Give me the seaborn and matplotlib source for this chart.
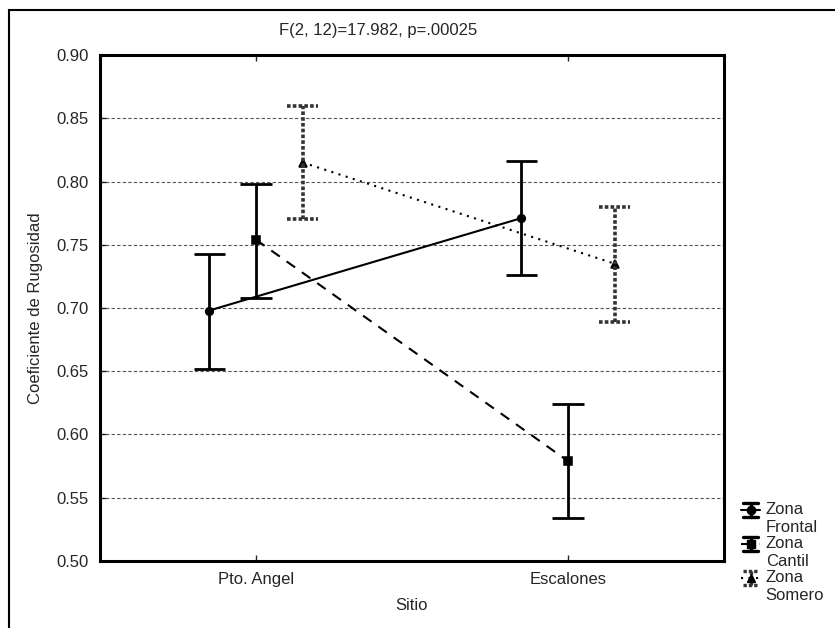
import matplotlib

matplotlib.use("Agg")
import matplotlib.pyplot as plt
import numpy as np
import pandas as pd
import seaborn as sns
from matplotlib.legend_handler import HandlerBase
from matplotlib.lines import Line2D
from matplotlib.patches import Rectangle

sitios = ["Pto. Angel", "Escalones"]
zonas = ["Zona Frontal", "Zona Cantil", "Zona Somero"]
legend_labels = ["Zona\nFrontal", "Zona\nCantil", "Zona\nSomero"]

media_frontal = [0.698, 0.771]
media_cantil = [0.754, 0.579]
media_somero = [0.815, 0.735]

inf_frontal = [0.652, 0.726]
sup_frontal = [0.743, 0.816]
inf_cantil = [0.708, 0.534]
sup_cantil = [0.798, 0.624]
inf_somero = [0.770, 0.689]
sup_somero = [0.860, 0.780]

medias = [media_frontal, media_cantil, media_somero]
inferiores = [inf_frontal, inf_cantil, inf_somero]
superiores = [sup_frontal, sup_cantil, sup_somero]

df = pd.DataFrame({
    "Sitio": sitios * 3,
    "Zona": [z for z in zonas for _ in sitios],
    "Coef": media_frontal + media_cantil + media_somero,
})

line_styles = ["-", (0, (5, 4)), (0, (1, 2.6))]
bar_styles = ["-", "-", (0, (1, 0.6))]
bar_colors = ["black", "black", "#333333"]
markers = ["o", "s", "^"]


class ErrorbarIcon(HandlerBase):
    """Statistica-like legend key: a capped error bar with the mean marker."""

    def create_artists(self, legend, orig_handle, xdescent, ydescent, width, height, fontsize, trans):
        k = orig_handle
        cx = width / 2 - xdescent
        cy = height / 2 - ydescent + fontsize * 0.55  # line up with the first text line
        h = fontsize * 0.42
        w = width * 0.4
        arts = [
            Line2D([cx, cx], [cy - h, cy + h], color=bar_colors[k], linestyle=bar_styles[k], linewidth=2.4),
            Line2D([cx - w, cx + w], [cy + h, cy + h], color=bar_colors[k], linestyle=bar_styles[k], linewidth=2.4),
            Line2D([cx - w, cx + w], [cy - h, cy - h], color=bar_colors[k], linestyle=bar_styles[k], linewidth=2.4),
            Line2D([cx - width / 2, cx + width / 2], [cy, cy], color="black", linestyle=line_styles[k], linewidth=1.5),
            Line2D([cx], [cy], color="black", marker=markers[k], markersize=6, linestyle="none"),
        ]
        for a in arts:
            a.set_transform(trans)
        return arts


sns.set_style("white")
plt.rcParams["font.family"] = ["Liberation Sans", "DejaVu Sans"]
plt.rcParams["font.size"] = 12

fig = plt.figure(figsize=(8.35, 6.28), dpi=100)
ax = fig.add_axes([0.1198, 0.1067, 0.7472, 0.8057])

sns.pointplot(
    data=df, x="Sitio", y="Coef", hue="Zona", order=sitios, hue_order=zonas,
    dodge=0.3, errorbar=None, palette=["black"] * 3,
    linestyles=line_styles, markers=markers, markersize=5.5, linewidth=1.5,
    legend=False, ax=ax,
)

# error bars drawn by hand so the Somero ones can be dotted
offsets = [-0.15, 0.0, 0.15]
cap = 0.05
for k in range(3):
    xs = np.arange(len(sitios)) + offsets[k]
    lw = 2.6 if k == 2 else 2.0
    kw = dict(colors=bar_colors[k], linestyles=bar_styles[k], linewidth=lw, zorder=3)
    ax.vlines(xs, inferiores[k], superiores[k], **kw)
    ax.hlines(inferiores[k], xs - cap, xs + cap, **kw)
    ax.hlines(superiores[k], xs - cap, xs + cap, **kw)

yt = np.arange(0.50, 0.901, 0.05)
ax.set_ylim(0.50, 0.90)
ax.set_xlim(-0.5, 1.5)
ax.set_yticks(yt)
ax.set_yticklabels([f"{v:.2f}" for v in yt])
ax.yaxis.grid(True, linestyle=(0, (3, 2)), color="#555555", linewidth=0.8)
ax.xaxis.grid(False)
ax.tick_params(axis="both", direction="in", length=4, width=1, labelsize=12,
               top=True, left=True, bottom=True, right=False, pad=8)
for s in ax.spines.values():
    s.set_linewidth(2.2)
    s.set_color("black")
ax.set_xlabel("Sitio", fontsize=12, labelpad=8)
ax.set_ylabel("Coeficiente de Rugosidad", fontsize=12, labelpad=10)

fig.text(0.453, 0.952, "F(2, 12)=17.982, p=.00025", ha="center", va="center", fontsize=12)

fig.legend([0, 1, 2], legend_labels, handler_map={int: ErrorbarIcon()},
           loc="lower left", bbox_to_anchor=(0.888, 0.04),
           frameon=False, fontsize=12, handlelength=1.1, handleheight=0.8, handletextpad=0.35,
           labelspacing=0.1, borderaxespad=0, borderpad=0)

# outer frame of the graph window
fig.patches.append(Rectangle((9 / 835, -0.2), 2.0, 1.2 - 10 / 628, transform=fig.transFigure,
                             fill=False, edgecolor="black", linewidth=1.5))

fig.savefig("out.png", dpi=100)
